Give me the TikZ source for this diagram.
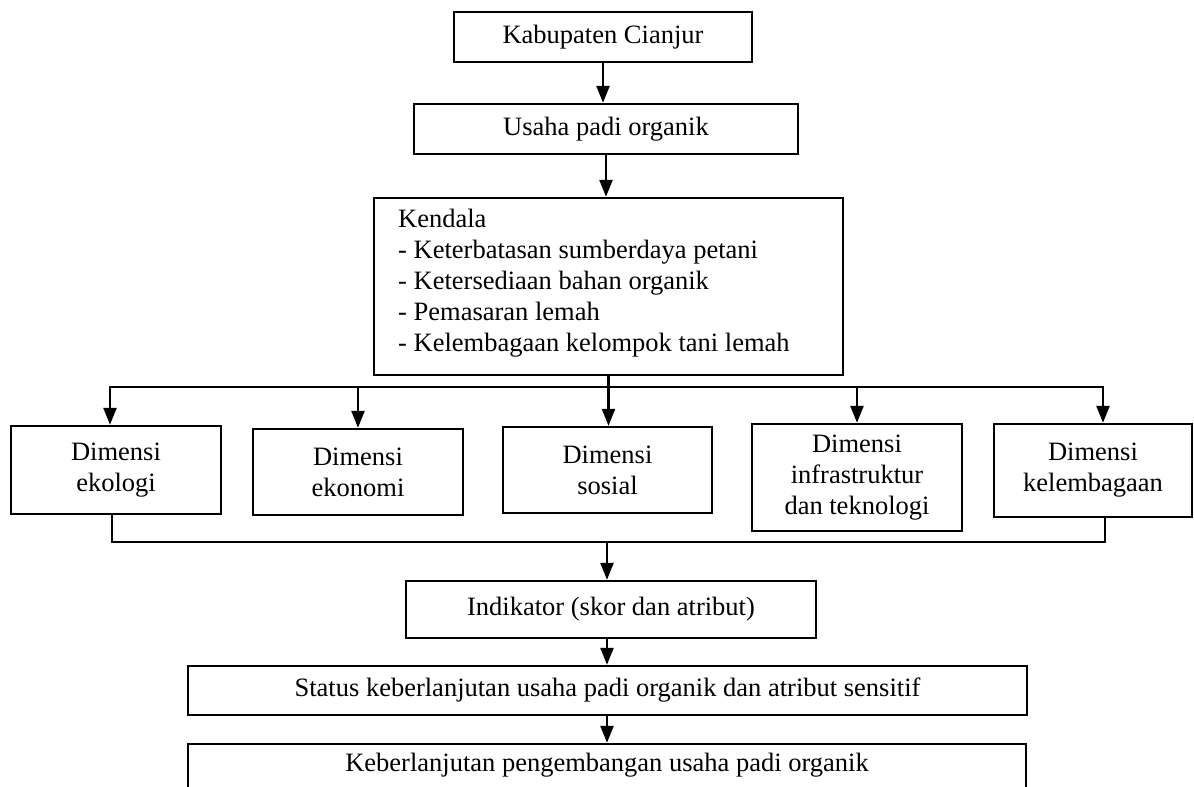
\documentclass[tikz,border=0pt]{standalone}
\usepackage{fontspec}
\setmainfont{Liberation Serif}
\usetikzlibrary{arrows.meta}
\begin{document}
\begin{tikzpicture}[x=1pt,y=-1pt,
  box/.style={draw, line width=2.4pt, inner sep=0pt, align=center, font=\fontsize{26.5}{31}\selectfont},
  txt/.style={inner sep=0pt, align=left, font=\fontsize{26.5}{31}\selectfont},
  ln/.style={line width=2.4pt, line cap=rect},
  arr/.style={line width=2.4pt, -{Triangle[length=17pt,width=13pt]}}]
\useasboundingbox (0,0) rectangle (1194,787);
\clip (0,0) rectangle (1194,787);
% top chain
\node[box, minimum width=298pt, minimum height=50pt] (k1) at (603,37) {Kabupaten Cianjur};
\node[box, minimum width=384pt, minimum height=50pt] (k2) at (606,129) {Usaha padi organik};
\node[box, minimum width=469pt, minimum height=177pt] (k3) at (608.5,286.5) {};
\node[txt, anchor=north west] (k3t) at (398,209) {Kendala\\- Keterbatasan sumberdaya petani\\- Ketersediaan bahan organik\\- Pemasaran lemah\\- Kelembagaan kelompok tani lemah};
% dimension boxes
\node[box, minimum width=210pt, minimum height=88pt] (d1) at (116,470) {Dimensi\\ekologi};
\node[box, minimum width=210pt, minimum height=86pt] (d2) at (358,472) {Dimensi\\ekonomi};
\node[box, minimum width=209pt, minimum height=86pt] (d3) at (607.5,470) {Dimensi\\sosial};
\node[box, minimum width=210pt, minimum height=107pt] (d4) at (857,477.5) {Dimensi\\infrastruktur\\dan teknologi};
\node[box, minimum width=198pt, minimum height=93pt] (d5) at (1093,470.5) {Dimensi\\kelembagaan};
% lower chain
\node[box, minimum width=410pt, minimum height=57pt] (ind) at (611,609.5) {Indikator (skor dan atribut)};
\node[box, minimum width=839pt, minimum height=49pt] (st) at (607.5,690.5) {Status keberlanjutan usaha padi organik dan atribut sensitif};
\node[box, minimum width=838pt, minimum height=60pt] (k7) at (607,774) {};
\node[txt] (k7t) at (607,765) {Keberlanjutan pengembangan usaha padi organik};
% connectors
\draw[arr] (k1.south) -- (k1.south |- k2.north);
\draw[arr] (k2.south) -- (k2.south |- k3.north);
\coordinate (dL) at (110,387);
\coordinate (dR) at (1103,387);
\draw[ln] (dL) -- (dR);
\draw[ln] (k3.south) -- (k3.south |- dL);
\draw[arr] (dL) -- (dL |- d1.north);
\draw[arr] (d2.north |- dL) -- (d2.north);
\draw[arr] (k3.south |- dL) -- (k3.south |- d3.north);
\draw[arr] (d4.north |- dL) -- (d4.north);
\draw[arr] (dR) -- (dR |- d5.north);
\coordinate (cL) at (112,542);
\coordinate (cR) at (1105,542);
\coordinate (cM) at (607,542);
\draw[ln] (cL |- d1.south) -- (cL) -- (cR) -- (cR |- d5.south);
\draw[arr] (cM) -- (cM |- ind.north);
\draw[arr] (cM |- ind.south) -- (cM |- st.north);
\draw[arr] (cM |- st.south) -- (cM |- k7.north);
\end{tikzpicture}
\end{document}
